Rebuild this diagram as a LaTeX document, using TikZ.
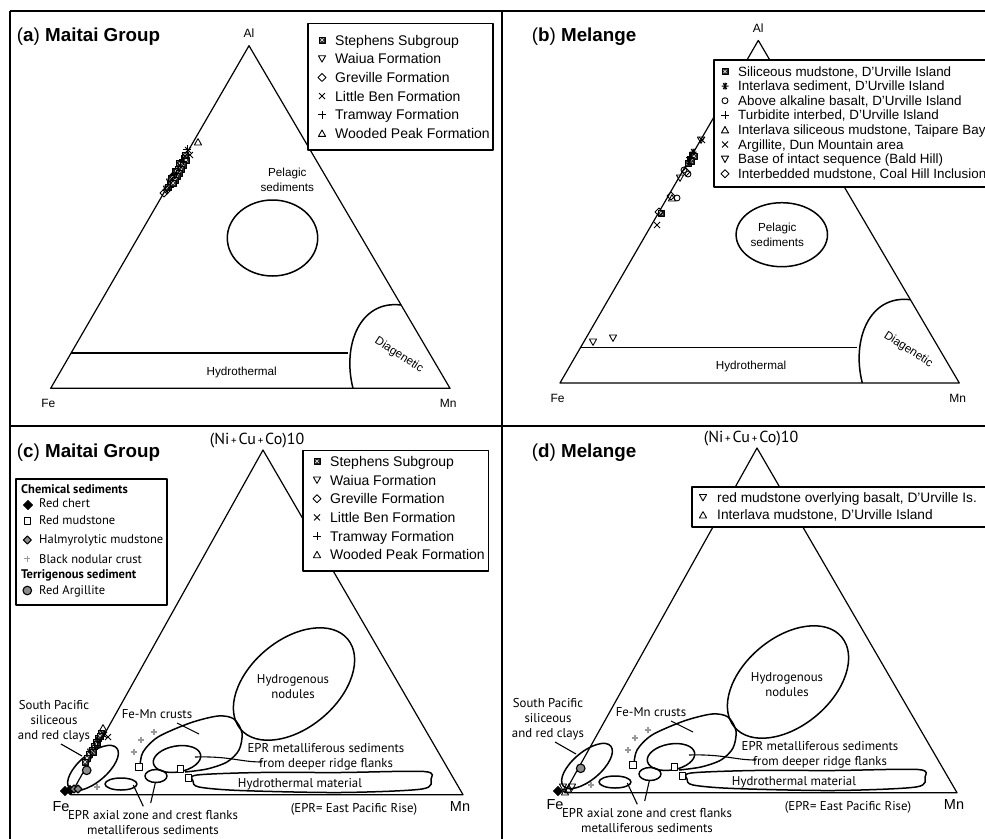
\documentclass[tikz,border=0pt]{standalone}
\usepackage{fontspec}
\setmainfont{Liberation Sans}
\newfontfamily\myriad{PT Sans}

\tikzset{
  panelline/.style={line width=1.8pt},
  triline/.style={line width=1.2pt},
  regline/.style={line width=1.5pt},
  leader/.style={line width=1.1pt},
  keybox/.style={line width=1.1pt, fill=white},
  ttl/.style={anchor=base west, inner sep=0pt, font=\fontsize{18.8}{22}\selectfont},
  axlbl/.style={anchor=base, inner sep=0pt, font=\fontsize{12}{14}\selectfont},
  smlbl/.style={anchor=base, inner sep=0pt, align=center, font=\fontsize{11.7}{15}\selectfont},
  keytxt/.style={anchor=base west, inner sep=0pt, font=\fontsize{14}{16}\selectfont},
  keysml/.style={anchor=base west, inner sep=0pt, font=\fontsize{13.4}{15}\selectfont},
  ckey/.style={anchor=base west, inner sep=0pt, font=\myriad\fontsize{12.5}{15}\selectfont},
  ckeyhd/.style={anchor=base west, inner sep=0pt, font=\myriad\bfseries\fontsize{12.5}{15}\selectfont},
  rlbl/.style={anchor=base, inner sep=0pt, align=center, font=\myriad\fontsize{12.8}{15}\selectfont},
  sqmk/.pic={\draw[line width=0.7pt, fill=black!85] (-3,-3) rectangle (3,3);
             \draw[line width=0.5pt, white] (-1.6,-1.6) -- (1.6,1.6) (-1.6,1.6) -- (1.6,-1.6);},
  dtri/.pic={\draw[line width=0.9pt] (-3.6,-3) -- (3.6,-3) -- (0,3.4) -- cycle;},
  utri/.pic={\draw[line width=0.9pt] (-3.6,3) -- (3.6,3) -- (0,-3.4) -- cycle;},
  dmd/.pic={\draw[line width=0.9pt] (0,-4) -- (4,0) -- (0,4) -- (-4,0) -- cycle;},
  xmk/.pic={\draw[line width=0.9pt] (-3,-3) -- (3,3) (-3,3) -- (3,-3);},
  pmk/.pic={\draw[line width=0.9pt] (-4,0) -- (4,0) (0,-4) -- (0,4);},
  omk/.pic={\draw[line width=0.9pt] (0,0) circle (3);},
  astk/.pic={\draw[line width=1pt] (-3.5,0) -- (3.5,0) (-1.8,-3) -- (1.8,3) (-1.8,3) -- (1.8,-3) (0,-3.5) -- (0,3.5);},
  bdmd/.pic={\draw[line width=0.8pt, fill=black] (0,-4.5) -- (4.5,0) -- (0,4.5) -- (-4.5,0) -- cycle;},
  gdmd/.pic={\draw[line width=1.1pt, fill=black!45] (0,-4) -- (4,0) -- (0,4) -- (-4,0) -- cycle;},
  osq/.pic={\draw[line width=1.1pt, fill=white] (-3.2,-3.2) rectangle (3.2,3.2);},
  gpls/.pic={\draw[line width=1.2pt, black!40] (-3,0) -- (3,0) (0,-3) -- (0,3);},
  gcirc/.pic={\draw[line width=1.1pt, fill=black!45] (0,0) circle (4.3);}
}

% Al-Fe-Mn triangle, drawn in panel (a) coordinates
\newcommand\alfemn[1]{%
  \draw[triline] (50.7,388.3) -- (249,45.7) -- (450,388.3) -- cycle;
  \draw[triline] (71.1,353) -- (348,353);
  \draw[regline] (353,388.3) .. controls (342,345) and (360,300) .. (401,305);
  \node[axlbl] (#1al) at (249,37.3) {Al};
  \node[axlbl] (#1fe) at (48.3,407.3) {Fe};
  \node[axlbl] (#1mn) at (448.3,407.3) {Mn};
  \node[smlbl] (#1hyd) at (241.7,375) {Hydrothermal};
  \node[smlbl, anchor=center, rotate=-33] (#1dia) at (399,355) {Diagenetic};
}

% Maitai key, origin at the first baseline
\newcommand\maitaikey[1]{%
  \pic at (-13,-5) {sqmk};
  \pic at (-13,13.7) {dtri};
  \pic at (-13,32.4) {dmd};
  \pic at (-13,51.1) {xmk};
  \pic at (-13,69.8) {pmk};
  \pic at (-13,88.4) {utri};
  \node[keytxt] (#1k1) at (0,0) {Stephens Subgroup};
  \node[keytxt] (#1k2) at (0,18.7) {Waiua Formation};
  \node[keytxt] (#1k3) at (0,37.4) {Greville Formation};
  \node[keytxt] (#1k4) at (0,56.1) {Little Ben Formation};
  \node[keytxt] (#1k5) at (0,74.8) {Tramway Formation};
  \node[keytxt] (#1k6) at (0,93.4) {Wooded Peak Formation};
}

% (Ni+Cu+Co)10-Fe-Mn triangle, drawn in panel (c) coordinates
\newcommand\cregions[1]{%
  \draw[triline] (70.7,794.7) -- (263,450) -- (463,794.7) -- cycle;
  \draw[regline, rotate around={40:(294,684)}] (294,684) ellipse [x radius=70, y radius=44];
  \draw[regline] plot[smooth] coordinates {(140,766) (143,752) (158,737) (190,723) (218,716) (234,719) (242,733) (239,750) (227,762) (207,769) (185,772)};
  \draw[regline, rotate around={10:(177,759)}] (177,759) ellipse [x radius=24, y radius=13];
  \draw[regline] plot[smooth cycle] coordinates {(197,775) (260,772.5) (340,772.5) (424,771.5) (431,779) (422,789) (340,792.5) (240,790.5) (199,787) (193,781)};
  \draw[regline, rotate around={40:(93,768)}] (93,768) ellipse [x radius=31, y radius=14];
  \draw[regline] (121,784) ellipse [x radius=16, y radius=6];
  \draw[regline] (156,776) ellipse [x radius=11, y radius=6.5];

  \pic at (86.7,770.3) {gcirc};
  \foreach \x/\y in {97/787,134/752,141/740,154/732} \pic at (\x,\y) {gpls};
  \foreach \x/\y in {139/767,180.5/769,188.3/778} \pic at (\x,\y) {osq};

  \node[axlbl, font=\fontsize{16}{18}\selectfont\myriad] (#1top) at (257,444) {(Ni{\fontsize{11}{11}\selectfont\,+\,}Cu{\fontsize{11}{11}\selectfont\,+\,}Co)10};
  \node[axlbl, font=\fontsize{14.5}{16}\selectfont] (#1fe) at (61,811.3) {Fe};
  \node[axlbl, font=\fontsize{14.5}{16}\selectfont] (#1mn) at (460,811.3) {Mn};
  \node[rlbl] (#1sp) at (54,739.7) {South Pacific\\siliceous\\and red clays};
  \node[rlbl] (#1crust) at (157,718) {Fe-Mn crusts};
  \node[rlbl] (#1nod) at (293,698.7) {Hydrogenous\\nodules};
  \node[rlbl] (#1epr) at (326,767) {EPR metalliferous sediments\\from deeper ridge flanks};
  \node[rlbl] (#1hm) at (300,787.3) {Hydrothermal material};
  \node[rlbl] (#1rise) at (354,812) {(EPR= East Pacific Rise)};
  \node[rlbl] (#1axial) at (153,834.7) {EPR axial zone and crest flanks\\metalliferous sediments};

  \coordinate (#1spa) at (61,744);
  \coordinate (#1spb) at (82,756);
  \coordinate (#1cra) at (177,723);
  \coordinate (#1crb) at (199,734);
  \coordinate (#1fla) at (195,757);
  \coordinate (#1flb) at (262,762);
  \coordinate (#1axa) at (133.3,785);
  \coordinate (#1axb) at (143.3,806.3);
  \coordinate (#1axc) at (155.5,782);
  \coordinate (#1axd) at (150.7,803);
  \draw[leader] (#1spa) -- (#1spb);
  \draw[leader] (#1cra) -- (#1crb);
  \draw[leader] (#1fla) .. controls (230,756) and (240,762) .. (#1flb);
  \draw[leader] (#1axa) -- (#1axb);
  \draw[leader] (#1axc) -- (#1axd);
}

\begin{document}
\begin{tikzpicture}[x=1pt, y=-1pt, line join=round]
  \useasboundingbox (0,0) rectangle (985,838);
  \clip (0,0) rectangle (985,838);

  \draw[panelline] (10,11) -- (995,11);
  \draw[panelline] (10,11) -- (10,845);
  \draw[panelline] (502,11) -- (502,845);
  \draw[panelline] (10,426) -- (995,426);

  % (a)
  \alfemn{a}
  \draw[regline] (272.5,238) ellipse [x radius=45.2, y radius=38];
  \node[smlbl] (apel) at (287.3,191.7) {Pelagic\\sediments};
  \foreach \x/\y in {184/158,182/162,180/166,178/169,176/173,174/177,172/180,170/184,168/187,179/163,175/171,171/178,
                     186/160,183/165,181/169,179/173,177/176,175/180,173/183,185/155} \pic at (\x,\y) {sqmk};
  \foreach \x/\y in {181/165,177/172,170/182,167/189} \pic at (\x,\y) {dtri};
  \foreach \x/\y in {164/193,167/190,173/176} \pic at (\x,\y) {dmd};
  \foreach \x/\y in {188/150,190/155,185/156} \pic at (\x,\y) {xmk};
  \foreach \x/\y in {187/149,183/161} \pic at (\x,\y) {pmk};
  \pic at (198,142) {utri};
  \draw[keybox] (308,23.3) rectangle (493,150);
  \begin{scope}[shift={(335,45)}]
    \maitaikey{a}
  \end{scope}
  \node[ttl] (atitle) at (16.7,41.7) {(\textbf{a}) \textbf{Maitai Group}};

  % (b)
  \begin{scope}[shift={(509.3,-5.3)}]
    \alfemn{b}
    \draw[regline] (272.5,240) ellipse [x radius=45.7, y radius=32];
    \node[smlbl] (bpel) at (268,252) {Pelagic\\sediments};
  \end{scope}
  \foreach \x/\y in {692/155,690/159,688/163,661/213,694/156,691/161} \pic at (\x,\y) {sqmk};
  \foreach \x/\y in {693/152,689/161} \pic at (\x,\y) {astk};
  \foreach \x/\y in {684/170,688/174,677/198} \pic at (\x,\y) {omk};
  \foreach \x/\y in {686/172,671/196,659/212} \pic at (\x,\y) {dmd};
  \foreach \x/\y in {701/140,680/178,593/342,613/338} \pic at (\x,\y) {dtri};
  \foreach \x/\y in {702/140,657/225} \pic at (\x,\y) {xmk};
  \pic at (672,198) {utri};
  \pic at (690,157) {pmk};
  \draw[keybox] (714,60) rectangle (1000,187);
  \pic at (725,71.5) {sqmk};
  \pic at (725,86.1) {astk};
  \pic at (725,100.7) {omk};
  \pic at (725,115.3) {pmk};
  \pic at (725,129.9) {utri};
  \pic at (725,144.5) {xmk};
  \pic at (725,159.1) {dtri};
  \pic at (725,173.7) {dmd};
  \node[keysml] (bk1) at (738,76) {Siliceous mudstone, D’Urville Island};
  \node[keysml] (bk2) at (738,90.6) {Interlava sediment, D’Urville Island};
  \node[keysml] (bk3) at (738,105.2) {Above alkaline basalt, D’Urville Island};
  \node[keysml] (bk4) at (738,119.8) {Turbidite interbed, D’Urville Island};
  \node[keysml] (bk5) at (738,134.4) {Interlava siliceous mudstone, Taipare Bay};
  \node[keysml] (bk6) at (738,149) {Argillite, Dun Mountain area};
  \node[keysml] (bk7) at (738,163.6) {Base of intact sequence (Bald Hill)};
  \node[keysml] (bk8) at (738,178.2) {Interbedded mudstone, Coal Hill Inclusion};
  \node[ttl] (btitle) at (531.7,41.7) {(\textbf{b}) \textbf{Melange}};

  % (c)
  \cregions{c}
  \foreach \x/\y in {101/733,98/738,96/742,94/746,92/750,89/754,87/758,85/762,100/736,97/744,93/752} \pic at (\x,\y) {sqmk};
  \foreach \x/\y in {99/740,91/752} \pic at (\x,\y) {dtri};
  \foreach \x/\y in {108/737,104/735} \pic at (\x,\y) {xmk};
  \pic at (103,728) {utri};
  \pic at (97,745) {pmk};
  \foreach \x/\y in {65/791,70/790} \pic at (\x,\y) {bdmd};
  \foreach \x/\y in {74/789,78/789} \pic at (\x,\y) {gdmd};
  \draw[keybox] (303,450.7) rectangle (488.3,571);
  \begin{scope}[shift={(330,466.3)}]
    \maitaikey{c}
  \end{scope}
  \draw[keybox] (16,479) rectangle (167,605);
  \pic at (28,505) {bdmd};
  \pic at (27.3,521) {osq};
  \pic at (27.3,540) {gdmd};
  \pic at (27.3,558.5) {gpls};
  \pic at (27.3,590.5) {gcirc};
  \node[ckeyhd] (chem) at (21,493.7) {Chemical sediments};
  \node[ckey] (chert) at (39,507.3) {Red chert};
  \node[ckey] (redmud) at (39,524.7) {Red mudstone};
  \node[ckey] (halmy) at (39,543) {Halmyrolytic mudstone};
  \node[ckey] (crust) at (39,563) {Black nodular crust};
  \node[ckeyhd] (terr) at (21,578) {Terrigenous sediment};
  \node[ckey] (argil) at (39,594) {Red Argillite};
  \node[ttl] (ctitle) at (16.7,457.3) {(\textbf{c}) \textbf{Maitai Group}};

  % (d)
  \begin{scope}[shift={(494,-2)}]
    \cregions{d}
  \end{scope}
  \pic at (558,791) {bdmd};
  \foreach \x/\y in {563/787,572/787} \pic at (\x,\y) {dtri};
  \foreach \x/\y in {568/789,565/792} \pic at (\x,\y) {utri};
  \draw[keybox] (692,487) rectangle (1000,527);
  \pic at (703,497.5) {dtri};
  \pic at (703,515) {utri};
  \node[keysml, font=\fontsize{13.7}{15}\selectfont] (dk1) at (717,502) {red mudstone overlying basalt, D’Urville Is.};
  \node[keysml, font=\fontsize{13.7}{15}\selectfont] (dk2) at (717,519.7) {Interlava mudstone, D’Urville Island};
  \node[ttl] (dtitle) at (531.7,457) {(\textbf{d}) \textbf{Melange}};
\end{tikzpicture}
\end{document}
